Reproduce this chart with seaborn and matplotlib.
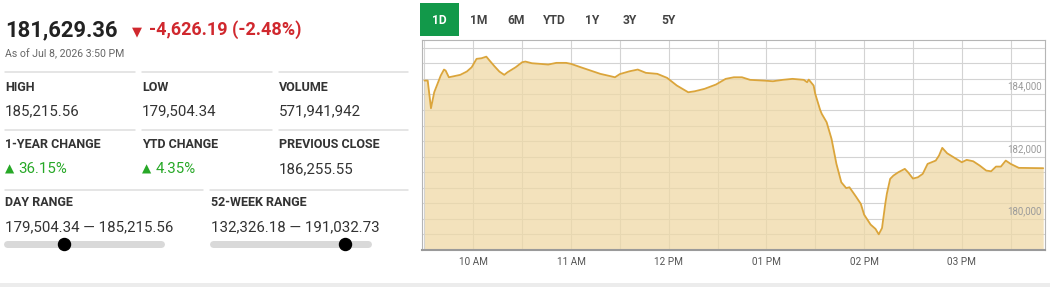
import matplotlib
matplotlib.use("Agg")
import matplotlib.pyplot as plt
from matplotlib import font_manager
from matplotlib.lines import Line2D
from matplotlib.patches import Rectangle
from matplotlib.transforms import blended_transform_factory
import seaborn as sns
import pandas as pd
import numpy as np

# ---------------- data ----------------
times = ["09:30", "09:32", "09:34", "09:36", "09:40", "09:42", "09:43", "09:45", "09:48", "09:52",
         "09:56", "09:59", "10:02", "10:05", "10:08", "10:10", "10:13", "10:16", "10:19", "10:21",
         "10:26", "10:30", "10:32", "10:36", "10:41", "10:46", "10:51", "10:57", "11:00", "11:06",
         "11:12", "11:18", "11:24", "11:27", "11:30", "11:36", "11:41", "11:46", "11:53", "11:59",
         "12:05", "12:12", "12:16", "12:22", "12:29", "12:35", "12:40", "12:45", "12:50", "12:58",
         "13:04", "13:10", "13:16", "13:23", "13:25", "13:26", "13:29", "13:30", "13:33", "13:34",
         "13:37", "13:40", "13:43", "13:46", "13:49", "13:51", "13:55", "13:58", "14:00", "14:04",
         "14:07", "14:09", "14:11", "14:13", "14:14", "14:16", "14:18", "14:21", "14:25", "14:27",
         "14:30", "14:33", "14:36", "14:39", "14:44", "14:46", "14:48", "14:51", "14:55", "15:00",
         "15:03", "15:07", "15:11", "15:15", "15:18", "15:21", "15:24", "15:27", "15:30", "15:35",
         "15:50"]
values = [184446, 184446, 183556, 184070, 184607, 184800, 184768, 184552, 184585, 184630,
          184736, 184874, 185144, 185163, 185215, 185089, 184906, 184736, 184630, 184713,
          184874, 185035, 185057, 185003, 184983, 184961, 185015, 185015, 184983, 184874,
          184768, 184662, 184590, 184552, 184655, 184745, 184800, 184694, 184662, 184533,
          184286, 184070, 184102, 184180, 184318, 184501, 184552, 184552, 184469, 184446,
          184424, 184469, 184501, 184469, 184392, 184478, 184286, 184019, 183504, 183376,
          183106, 182572, 181768, 181177, 180990, 181016, 180717, 180482, 180138, 179817,
          179678, 179504, 179704, 180482, 180813, 181286, 181392, 181498, 181608, 181498,
          181296, 181337, 181447, 181768, 181874, 182035, 182283, 182109, 181980, 181820,
          181897, 181852, 181714, 181553, 181530, 181681, 181681, 181874, 181768, 181640,
          181629]

x_tick_hours = [10, 11, 12, 13, 14, 15]
x_tick_labels = ["10 AM", "11 AM", "12 PM", "01 PM", "02 PM", "03 PM"]
y_label_values = [180000, 182000, 184000]
range_buttons = ["1D", "1M", "6M", "YTD", "1Y", "3Y", "5Y"]

last_price = 181629.36
change_text = "-4,626.19 (-2.48%)"
as_of = "As of Jul 8, 2026 3:50 PM"
row1_labels = ["HIGH", "LOW", "VOLUME"]
row1_values = ["185,215.56", "179,504.34", "571,941,942"]
row2_labels = ["1-YEAR CHANGE", "YTD CHANGE", "PREVIOUS CLOSE"]
row2_values = ["36.15%", "4.35%", "186,255.55"]
day_low, day_high = 179504.34, 185215.56
wk_low, wk_high = 132326.18, 191032.73

# ---------------- style ----------------
sns.set_style("white")
names = {f.name for f in font_manager.fontManager.ttflist}
NARROW = "Liberation Sans Narrow" if "Liberation Sans Narrow" in names else "Roboto"
plt.rcParams["font.family"] = ["Roboto", "DejaVu Sans"]

W, H = 1050, 287
fig = plt.figure(figsize=(W / 100, H / 100), dpi=100)
fig.patch.set_facecolor("white")


def fx(x):
    return x / W


def fy(y):
    return 1 - y / H


def ftext(x, y, s, size_px, color="#333", weight="normal", family=None, ha="left", va="baseline"):
    kw = {}
    if family is not None:
        kw["family"] = family
    fig.text(fx(x), fy(y), s, fontsize=size_px * 0.72, color=color, weight=weight,
             ha=ha, va=va, **kw)


def hline(x0, x1, y, color="#dddddd", lw_px=1.5):
    fig.add_artist(Line2D([fx(x0), fx(x1)], [fy(y), fy(y)], color=color,
                          lw=lw_px * 0.72, transform=fig.transFigure))


RED = "#d0282e"
GREEN = "#27a827"
DARK = "#222222"

# ---------------- left panel ----------------
ftext(5, 36, f"{last_price:,.2f}", 22, DARK, "bold")
ftext(132, 35, "\u25BC", 13, RED, family=["DejaVu Sans"])
ftext(149, 35.3, change_text, 18, RED, "bold")
ftext(5, 57, as_of, 10.5, "#666")

for x0, x1 in [(5, 135), (142, 272), (279, 408)]:
    hline(x0, x1, 72)
    hline(x0, x1, 130)
hline(5, 203, 189.5)
hline(210, 408, 189.5)

cols = [5, 142, 279]
for c, lab, val in zip(cols, row1_labels, row1_values):
    ftext(c, 90.7, lab, 12.5, "#333", "bold", family=[NARROW])
    ftext(c, 115, val, 15, "#333")

for i, (c, lab, val) in enumerate(zip(cols, row2_labels, row2_values)):
    ftext(c, 148.3, lab, 12.5, "#333", "bold", family=[NARROW])
    if i < 2:
        ftext(c - 0.5, 172.5, "\u25B2", 12, GREEN, family=["DejaVu Sans"])
        ftext(c + 13.5, 173.3, val, 15, GREEN)
    else:
        ftext(c, 173.3, val, 15, "#333")

ftext(5, 206, "DAY RANGE", 12.5, "#333", "bold", family=[NARROW])
ftext(211, 206, "52-WEEK RANGE", 12.5, "#333", "bold", family=[NARROW])
ftext(5, 231, f"{day_low:,.2f} \u2014 {day_high:,.2f}", 15, "#333")
ftext(211, 231, f"{wk_low:,.2f} \u2014 {wk_high:,.2f}", 15, "#333")

for (x0, x1), lo, hi in [((7, 161), day_low, day_high), ((213, 368), wk_low, wk_high)]:
    fig.add_artist(Line2D([fx(x0), fx(x1)], [fy(244), fy(244)], color="#d9d9d9",
                          lw=7 * 0.72, solid_capstyle="round", transform=fig.transFigure))
    frac = (last_price - lo) / (hi - lo)
    xd = x0 - 2 + frac * (x1 - x0 + 4)
    fig.add_artist(Line2D([fx(xd)], [fy(244)], marker="o", markersize=12 * 0.72,
                          color="black", lw=0, transform=fig.transFigure))

# bottom band
fig.add_artist(Rectangle((0, 0), 1, fy(283), facecolor="#ececec", edgecolor="none",
                         transform=fig.transFigure))

# ---------------- range buttons ----------------
fig.add_artist(Rectangle((fx(420), fy(36)), fx(459) - fx(420), fy(3) - fy(36),
                         facecolor="#12994a", edgecolor="none", transform=fig.transFigure))
btn_x = [439.5, 478.5, 516, 554, 592, 630, 668]
for bx, lab in zip(btn_x, range_buttons):
    ftext(bx, 20, lab, 12, "white" if lab == "1D" else "#444", "bold",
          family=[NARROW], ha="center", va="center")

# ---------------- chart ----------------
df = pd.DataFrame({"time": times, "value": values})
t = pd.to_datetime(df["time"], format="%H:%M")
df["hour"] = t.dt.hour + t.dt.minute / 60.0

L, R, T, B = 421.7, 1045, 40, 250
ax = fig.add_axes([fx(L), fy(B), fx(R) - fx(L), fy(T) - fy(B)])
ymin, ymax = 179000, 185750

ax.fill_between(df["hour"], df["value"], ymin, color="#efd9a6", alpha=0.75, lw=0, zorder=1)
sns.lineplot(data=df, x="hour", y="value", ax=ax, color="#dba53b", linewidth=1.3,
             estimator=None, zorder=3)

ax.set_xlim(9.4718, 15.8516)
ax.set_ylim(ymin, ymax)
ax.set_xticks(x_tick_hours)
ax.set_xticklabels(x_tick_labels)
ax.set_xticks(np.arange(9.5, 15.9, 1.0), minor=True)
ax.set_yticks(np.arange(179500, ymax, 500))
ax.set_yticklabels([])
ax.set_xlabel("")
ax.set_ylabel("")
ax.set_axisbelow(True)
ax.grid(True, which="both", color="#d3d3d3", lw=0.8)
ax.tick_params(axis="both", which="both", length=0)
ax.tick_params(axis="x", pad=5, labelsize=10 * 0.72, labelcolor="#555")
for lab in ax.get_xticklabels():
    lab.set_family([NARROW])

trans = blended_transform_factory(ax.transAxes, ax.transData)
for v in y_label_values:
    ax.annotate(f"{v:,}", xy=(1, v), xycoords=trans, xytext=(-2.2, 2), textcoords="offset points",
                ha="right", va="bottom", fontsize=9.8 * 0.72, color="#9a9a9a", family=[NARROW])

for side in ["left", "top", "right"]:
    ax.spines[side].set_color("#b5b5b5")
    ax.spines[side].set_linewidth(0.8)
ax.spines["bottom"].set_color("#9a9a9a")
ax.spines["bottom"].set_linewidth(1.5)

fig.savefig("out.png", dpi=100)
